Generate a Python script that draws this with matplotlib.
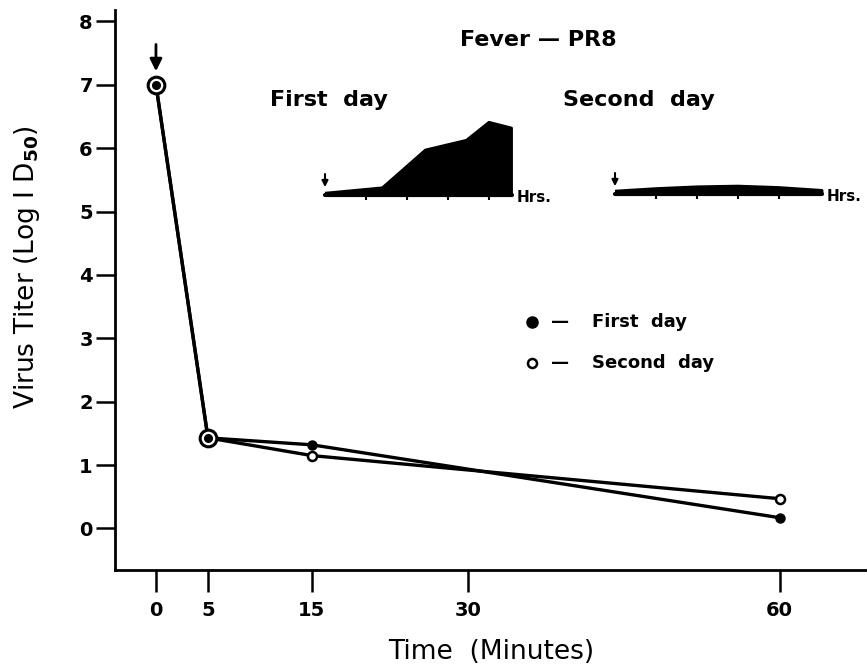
import matplotlib
matplotlib.use("Agg")
import matplotlib.pyplot as plt

# virus titer after injection
minutes = [0, 5, 15, 60]
first_day = [7.0, 1.43, 1.32, 0.17]
second_day = [7.0, 1.43, 1.15, 0.47]
x_ticks = [0, 5, 15, 30, 60]
y_ticks = [0, 1, 2, 3, 4, 5, 6, 7, 8]

# fever curves (inset), hours after injection
fever1_hrs = [0, 1.4, 2.45, 3.45, 4.0, 4.55, 4.55]
fever1_rise = [0.05, 0.2, 1.25, 1.52, 2.02, 1.86, 0.0]
fever2_hrs = [0, 1, 2, 3, 4, 5.05]
fever2_rise = [0.08, 0.15, 0.2, 0.22, 0.18, 0.1]
hr_ticks = [1, 2, 3, 4]

plt.rcParams['font.family'] = 'DejaVu Sans'
plt.rcParams['font.weight'] = 'bold'

W, H = 867, 671
fig = plt.figure(figsize=(W / 100, H / 100), dpi=100)
ax = fig.add_axes([115 / W, 101 / H, 752 / W, 560 / H])

lw = 2.4
ax.plot(minutes, first_day, color='black', lw=lw, marker='o', ms=6.5,
        mfc='black', mec='black', markevery=[2, 3], zorder=3)
ax.plot(minutes, second_day, color='black', lw=lw, marker='o', ms=6.5,
        mfc='white', mec='black', mew=1.8, markevery=[2, 3], zorder=3)
# shared starting points drawn as double circles
ax.plot(minutes[:2], first_day[:2], ls='none', marker='o', ms=12,
        mfc='white', mec='black', mew=2.2, zorder=4)
ax.plot(minutes[:2], first_day[:2], ls='none', marker='o', ms=5.5,
        mfc='black', mec='black', zorder=5)

ax.annotate('', xy=(0, 7.17), xytext=(0, 7.68),
            arrowprops=dict(arrowstyle='-|>', color='black', lw=2,
                            mutation_scale=18))

ax.set_xlim(-3.94, 68.4)
ax.set_ylim(-0.655, 8.18)
ax.set_xticks(x_ticks)
ax.set_yticks(y_ticks)
ax.tick_params(axis='x', direction='out', length=16, width=1.8, pad=6,
               labelsize=14)
ax.tick_params(axis='y', direction='out', length=14, width=1.8, pad=2,
               labelsize=14)
for s in ['top', 'right']:
    ax.spines[s].set_visible(False)
for s in ['left', 'bottom']:
    ax.spines[s].set_linewidth(2)

ax.set_xlabel('Time  (Minutes)', fontsize=19, labelpad=14, weight='normal')
ax.set_ylabel('Virus Titer (Log I D$_{50}$)', fontsize=19, weight='normal')
ax.yaxis.set_label_coords(-0.097, 0.54)

# legend written out by hand
lx, ly1, ly2 = 532, 322, 363
def fx(px):
    return px / W
def fy(py):
    return 1 - py / H
fig.lines.append(plt.Line2D([fx(lx)], [fy(ly1)], marker='o', ms=8,
                            mfc='black', mec='black', transform=fig.transFigure))
fig.lines.append(plt.Line2D([fx(lx)], [fy(ly2)], marker='o', ms=6.5,
                            mfc='white', mec='black', mew=1.8,
                            transform=fig.transFigure))
fig.text(fx(551), fy(ly1), '—', fontsize=13, va='center')
fig.text(fx(551), fy(ly2), '—', fontsize=13, va='center')
fig.text(fx(592), fy(ly1), 'First  day', fontsize=13, va='center')
fig.text(fx(592), fy(ly2), 'Second  day', fontsize=13, va='center')

# inset titles
fig.text(fx(538), fy(40), 'Fever — PR8', fontsize=16, ha='center', va='center')
fig.text(fx(270), fy(100), 'First  day', fontsize=16, ha='left', va='center')
fig.text(fx(563), fy(100), 'Second  day', fontsize=16, ha='left', va='center')

# fever insets, 41 px per hour and 36 px per unit of rise
def fever_inset(left_px, base_px, hrs, rise, end_hr):
    iax = fig.add_axes([left_px / W, 1 - base_px / H, 5.4 * 41 / W, 90 / H])
    iax.fill(hrs + [hrs[-1], 0], rise + [0, 0], color='black', lw=2,
             joinstyle='round')
    iax.set_xlim(0, 5.4)
    iax.set_ylim(0, 2.5)
    iax.patch.set_visible(False)
    for s in ['top', 'right', 'left']:
        iax.spines[s].set_visible(False)
    iax.spines['bottom'].set_bounds(0, end_hr)
    iax.spines['bottom'].set_linewidth(3)
    iax.spines['bottom'].set_capstyle('round')
    iax.set_yticks([])
    iax.set_xticks(hr_ticks)
    iax.set_xticklabels([])
    iax.tick_params(axis='x', direction='out', length=3.5, width=1.5)
    iax.annotate('', xy=(0, 0.14), xytext=(0, 0.66),
                 arrowprops=dict(arrowstyle='-|>', color='black', lw=1.5,
                                 mutation_scale=9), annotation_clip=False)
    iax.text(end_hr + 0.12, -0.08, 'Hrs.', fontsize=11, va='center',
             ha='left', clip_on=False)
    return iax

fever_inset(325, 195, fever1_hrs, fever1_rise, 4.55)
fever_inset(615, 194, fever2_hrs, fever2_rise, 5.05)

fig.savefig('out.png', dpi=100)
